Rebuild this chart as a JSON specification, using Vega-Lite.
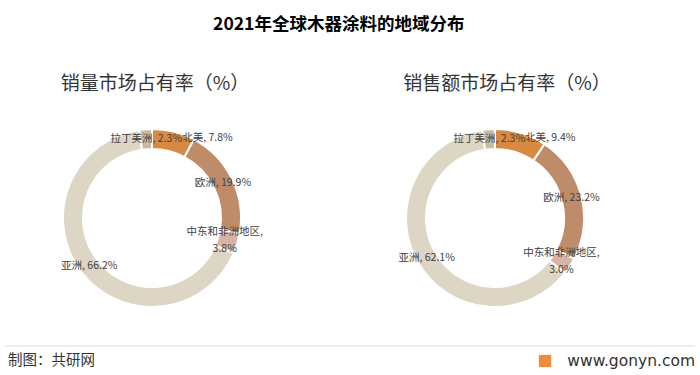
{
  "$schema": "https://vega.github.io/schema/vega-lite/v6.json",
  "padding": {"top": 15, "left": 0, "right": 5, "bottom": 0},
  "background": "white",
  "config": {
    "view": {"stroke": null},
    "font": "Noto Sans CJK SC"
  },
  "title": {
    "text": "2021年全球木器涂料的地域分布",
    "font": "Noto Sans CJK SC",
    "fontSize": 17.5,
    "fontWeight": "bold",
    "color": "#000000",
    "anchor": "middle",
    "dx": -9,
    "offset": 42
  },
  "datasets": {
    "regions": [
      {"chart": "销量", "region": "北美", "value": 7.8, "rank": 1},
      {"chart": "销量", "region": "欧洲", "value": 19.9, "rank": 2},
      {"chart": "销量", "region": "中东和非洲地区", "value": 3.8, "rank": 3},
      {"chart": "销量", "region": "亚洲", "value": 66.2, "rank": 4},
      {"chart": "销量", "region": "拉丁美洲", "value": 2.3, "rank": 5},
      {"chart": "销售额", "region": "北美", "value": 9.4, "rank": 1},
      {"chart": "销售额", "region": "欧洲", "value": 23.2, "rank": 2},
      {"chart": "销售额", "region": "中东和非洲地区", "value": 3.0, "rank": 3},
      {"chart": "销售额", "region": "亚洲", "value": 62.1, "rank": 4},
      {"chart": "销售额", "region": "拉丁美洲", "value": 2.3, "rank": 5}
    ]
  },
  "vconcat": [
    {
      "hconcat": [
        {
          "width": 304,
          "height": 222,
          "title": {"text": "销量市场占有率（%）", "font": "Noto Sans CJK SC", "fontSize": 19, "fontWeight": "normal", "color": "#333333", "anchor": "middle", "dx": 3, "offset": 13},
          "data": {"name": "regions"},
          "transform": [
            {"filter": "datum.chart === '销量'"},
            {"stack": "value", "groupby": ["chart"], "sort": [{"field": "rank", "order": "ascending"}], "as": ["v0", "v1"]},
            {"calculate": "(datum.v0 + datum.v1) / 2", "as": "mid"},
            {"calculate": "datum.region === '中东和非洲地区' ? datum.region + ',\\n' + format(datum.value, '.1f') + '%' : datum.region + ', ' + format(datum.value, '.1f') + '%'", "as": "label"}
          ],
          "layer": [
            {
              "mark": {"type": "arc", "innerRadius": 69, "outerRadius": 89, "stroke": "white", "strokeWidth": 2},
              "encoding": {
                "theta": {"field": "v0", "type": "quantitative", "scale": {"domain": [0, 100]}},
                "theta2": {"field": "v1"},
                "color": {"field": "region", "type": "nominal", "legend": null,
                  "scale": {"domain": ["北美", "欧洲", "中东和非洲地区", "亚洲", "拉丁美洲"], "range": ["#D98A42", "#BE8C69", "#D7B4A5", "#DDD6C4", "#CABBA3"]}}
              }
            },
            {
              "transform": [{"filter": "datum.region !== '北美' && datum.region !== '中东和非洲地区'"}],
              "mark": {"type": "text", "fontSize": 10.5, "color": "#404040", "font": "Noto Sans CJK SC"},
              "encoding": {
                "theta": {"field": "mid", "type": "quantitative", "scale": {"domain": [0, 100]}},
                "radius": {"value": 79},
                "text": {"field": "label"}
              }
            },
            {
              "transform": [{"filter": "datum.region === '中东和非洲地区'"}],
              "mark": {"type": "text", "fontSize": 10.5, "color": "#404040", "lineBreak": "\n", "lineHeight": 17, "dx": -3, "dy": -9, "font": "Noto Sans CJK SC"},
              "encoding": {
                "theta": {"field": "mid", "type": "quantitative", "scale": {"domain": [0, 100]}},
                "radius": {"value": 79},
                "text": {"field": "label"}
              }
            },
            {
              "transform": [{"filter": "datum.region === '北美'"}],
              "mark": {"type": "text", "fontSize": 10.5, "color": "#404040", "align": "left", "dx": 11, "dy": -3, "font": "Noto Sans CJK SC"},
              "encoding": {
                "theta": {"field": "mid", "type": "quantitative", "scale": {"domain": [0, 100]}},
                "radius": {"value": 79},
                "text": {"field": "label"}
              }
            }
          ]
        },
        {
          "width": 304,
          "height": 222,
          "title": {"text": "销售额市场占有率（%）", "font": "Noto Sans CJK SC", "fontSize": 19, "fontWeight": "normal", "color": "#333333", "anchor": "middle", "dx": 12, "offset": 13},
          "data": {"name": "regions"},
          "transform": [
            {"filter": "datum.chart === '销售额'"},
            {"stack": "value", "groupby": ["chart"], "sort": [{"field": "rank", "order": "ascending"}], "as": ["v0", "v1"]},
            {"calculate": "(datum.v0 + datum.v1) / 2", "as": "mid"},
            {"calculate": "datum.region === '中东和非洲地区' ? datum.region + ',\\n' + format(datum.value, '.1f') + '%' : datum.region + ', ' + format(datum.value, '.1f') + '%'", "as": "label"}
          ],
          "layer": [
            {
              "mark": {"type": "arc", "innerRadius": 69, "outerRadius": 89, "stroke": "white", "strokeWidth": 2},
              "encoding": {
                "theta": {"field": "v0", "type": "quantitative", "scale": {"domain": [0, 100]}},
                "theta2": {"field": "v1"},
                "color": {"field": "region", "type": "nominal", "legend": null,
                  "scale": {"domain": ["北美", "欧洲", "中东和非洲地区", "亚洲", "拉丁美洲"], "range": ["#D98A42", "#BE8C69", "#D7B4A5", "#DDD6C4", "#CABBA3"]}}
              }
            },
            {
              "transform": [{"filter": "datum.region !== '北美' && datum.region !== '中东和非洲地区'"}],
              "mark": {"type": "text", "fontSize": 10.5, "color": "#404040", "font": "Noto Sans CJK SC"},
              "encoding": {
                "theta": {"field": "mid", "type": "quantitative", "scale": {"domain": [0, 100]}},
                "radius": {"value": 79},
                "text": {"field": "label"}
              }
            },
            {
              "transform": [{"filter": "datum.region === '中东和非洲地区'"}],
              "mark": {"type": "text", "fontSize": 10.5, "color": "#404040", "lineBreak": "\n", "lineHeight": 17, "dy": -8, "font": "Noto Sans CJK SC"},
              "encoding": {
                "theta": {"field": "mid", "type": "quantitative", "scale": {"domain": [0, 100]}},
                "radius": {"value": 79},
                "text": {"field": "label"}
              }
            },
            {
              "transform": [{"filter": "datum.region === '北美'"}],
              "mark": {"type": "text", "fontSize": 10.5, "color": "#404040", "align": "left", "dx": 7, "dy": -4, "font": "Noto Sans CJK SC"},
              "encoding": {
                "theta": {"field": "mid", "type": "quantitative", "scale": {"domain": [0, 100]}},
                "radius": {"value": 79},
                "text": {"field": "label"}
              }
            }
          ]
        }
      ],
      "spacing": 39
    },
    {
      "width": 695,
      "height": 28,
      "data": {"values": [{"source": "共研网"}]},
      "layer": [
        {
          "mark": {"type": "rule", "color": "#DDDDDD", "strokeWidth": 1},
          "encoding": {"x": {"value": 5}, "x2": {"value": "width"}, "y": {"value": 0}}
        },
        {
          "mark": {"type": "text", "text": "制图：共研网", "align": "left", "baseline": "middle", "fontSize": 14.5, "color": "#333333", "font": "Noto Sans CJK SC"},
          "encoding": {"x": {"value": 8}, "y": {"value": 15}}
        },
        {
          "mark": {"type": "point", "shape": "square", "filled": true, "size": 150, "color": "#F08A3C", "opacity": 1},
          "encoding": {"x": {"value": 545}, "y": {"value": 15}}
        },
        {
          "mark": {"type": "text", "text": "www.gonyn.com", "align": "right", "baseline": "middle", "fontSize": 15.5, "color": "#333333", "font": "DejaVu Sans"},
          "encoding": {"x": {"value": "width"}, "y": {"value": 15}}
        }
      ]
    }
  ],
  "spacing": 16
}
